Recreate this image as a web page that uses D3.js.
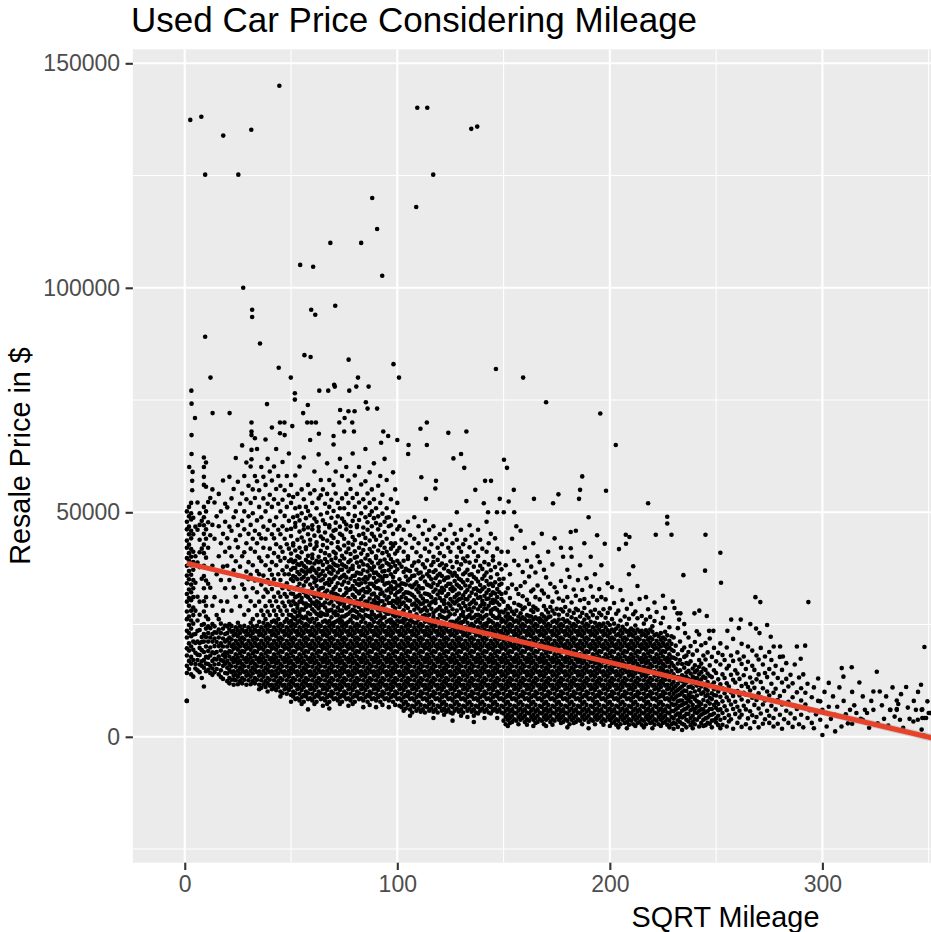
<!DOCTYPE html>
<html>
<head>
<meta charset="utf-8">
<script src="https://cdn.jsdelivr.net/npm/d3@7"></script>
<style>
  html, body { margin: 0; padding: 0; background: #fff; }
  svg { display: block; font-family: "Liberation Sans", Arial, Helvetica, sans-serif; }
</style>
</head>
<body>
<svg id="chart" width="931" height="932"></svg>
<script>
// x is sqrt(mileage); column prices are in $100s
// each column: [sqrtMileage, [prices at that mileage]]
const lowMileageCols = [
  [1, [80,142,158,181,197,221,236,262,279,301,318,342,359,381,398,421,437,462,479,502]],
  [2, [151,169,192,208,231,249,268,292,309,328,351,369,392,409,428,451,468,491,512]],
  [3, [139,163,178,201,224,241,259,281,304,322,339,361,382,401,418,442,459,484,498,521]],
  [4, [134,171,194,212,228,252,271,288,311,331,349,372,389,412,451,488]],
  [5, [152,162,187,209,229,281,343,402,468]],
  [6, [148,171,183,212,236,259,312,388,461,522]],
  [7, [144,161,182,198,209,238,272,301,378,411,439,472,498]],
  [8, [131,158,168,193,211,222,249,352,419,481]],
  [9, [112,154,171,189,212,229,251,279,302,331,358,381,409,428,452,471,489,512,561,579,601,622]],
  [10, [146,163,178,201,222,241,268,292,311,348,399,441,462,502,557,611]],
  [11, [149,162,176,191,212,231,246,262,341,421,478,523]],
  [12, [142,158,181,199,221,242,332,449,532]],
  [13, [138,152,169,188,212,229,251,292,381,472,551]],
  [14, [144,161,174,186,202,219,233,246,311,441,522]],
  [15, [151,172,189,211,232,271,362,491]],
  [16, [139,162,179,202,221,239,262,402,469,541]],
  [17, [133,148,171,192,208,231,252,302,349,431,502]],
  [18, [129,158,169,182,201,219,241,281,379,452,571]],
  [19, [142,163,178,188,212,229,248,331,412,479,519]],
  [20, [124,141,154,169,186,201,216,231,246,301,381,442,511]],
  [21, [119,131,149,162,179,191,209,221,239,251,349,421,468,579]],
  [22, [127,144,157,172,189,202,217,234,247,281,402,459,531]],
  [23, [116,136,146,166,176,196,206,226,236,332,371,489,552]],
  [24, [126,139,156,171,184,199,214,229,244,312,391,438,502,621]],
  [25, [117,134,147,164,177,194,207,224,237,254,359,422,471,568]],
  [26, [124,141,154,169,186,201,216,231,246,291,379,449,519]],
  [27, [119,131,149,162,179,191,209,221,239,339,402,481,542,649]],
  [28, [127,144,157,172,189,202,217,234,247,272,329,411,462,502,581]],
  [29, [116,136,146,166,176,196,206,226,236,312,368,431,529,611]],
  [30, [126,139,156,171,184,199,214,229,244,282,351,389,452,491,559]],
  [31, [117,134,147,164,177,194,207,224,237,254,302,361,419,472,521,602]],
  [32, [124,141,154,169,186,201,216,231,246,262,331,382,441,498,551]],
  [33, [119,131,149,162,179,191,209,221,239,292,348,412,459,532,581]],
  [34, [127,144,157,172,189,202,217,234,247,271,322,369,431,482,569,641]],
  [35, [106,116,136,146,166,176,196,206,226,236,256,301,362,399,451,512,549]],
  [36, [109,126,139,156,171,184,199,214,229,244,281,339,391,442,489,601]],
  [37, [117,134,147,164,177,194,207,224,237,254,271,312,359,421,468,531,579]],
  [38, [111,124,141,154,169,186,201,216,231,246,262,291,328,382,441,502,561,662]],
  [39, [101,119,131,149,162,179,191,209,221,239,251,279,322,349,402,461,519,619]],
  [40, [114,127,144,157,172,189,202,217,234,247,271,302,341,372,419,481,539,591]],
  [41, [106,116,136,146,166,176,196,206,226,236,256,292,329,361,389,451,512,571,689]],
  [42, [109,126,139,156,171,184,199,214,229,244,259,281,312,351,409,442,471,529,602]],
  [43, [104,117,134,147,164,177,194,207,224,237,254,271,302,339,382,429,489,552,641]],
  [44, [111,124,141,154,169,186,201,216,231,246,262,289,321,362,401,461,519,581]],
  [45, [90,101,119,131,149,162,179,191,209,221,239,251,281,312,349,392,422,451,502,559]],
  [46, [97,114,127,144,157,172,189,202,217,234,247,272,299,331,371,412,469,528,612]],
  [47, [106,116,136,146,166,176,196,206,226,236,256,291,318,362,398,441,492,549,672]],
  [48, [96,109,126,139,156,171,184,199,214,229,244,262,281,312,342,379,429,461,512,581]],
  [49, [104,117,134,147,164,177,194,207,224,237,254,272,301,329,362,391,419,481,538,631]]
];

const midMileageCols = [
  [50, [78,93,111,124,141,154,169,186,201,216,231,246,258,271,293,319,332,351,372,395,408,447,463,521,561]],
  [51, [90,101,119,131,149,162,179,191,209,221,239,251,266,282,302,318,347,358,376,389,426,431,489,534]],
  [52, [84,97,114,127,144,157,172,189,202,217,234,247,262,278,296,311,329,356,376,392,415,468,476,509,582]],
  [53, [86,106,116,136,146,166,176,196,206,226,236,254,269,287,294,313,333,351,367,384,402,439,492,541]],
  [54, [81,96,109,126,139,156,171,184,199,214,229,244,259,271,279,301,316,341,362,383,399,421,457,482,512,602]],
  [55, [73,88,104,117,134,147,164,177,194,207,224,237,254,267,284,301,309,328,352,371,387,411,444,498,551]],
  [56, [78,93,111,124,141,154,169,186,201,216,231,246,264,283,297,322,337,356,368,381,435,462,472,529,622]],
  [57, [90,101,119,131,149,162,179,191,209,221,239,251,268,289,297,314,346,363,377,394,418,422,487,512]],
  [58, [61,84,97,114,127,144,157,172,189,202,217,234,247,261,276,293,311,324,352,369,389,403,451,466,503,561]],
  [59, [86,106,116,136,146,166,176,196,206,226,236,256,273,292,305,321,339,368,372,388,428,439,493,542,661]],
  [60, [81,96,109,126,139,156,171,184,199,214,229,244,263,284,299,318,331,357,377,398,406,462,471,521]],
  [61, [73,88,104,117,134,147,164,177,194,207,224,237,254,279,296,312,344,353,371,386,419,448,486,549,591]],
  [62, [78,93,111,124,141,154,169,186,201,216,231,246,262,274,291,302,336,349,365,392,425,433,479,509]],
  [63, [90,101,119,131,149,162,179,191,209,221,239,251,271,286,299,313,327,358,374,389,401,458,467,531,629]],
  [64, [84,97,114,127,144,157,172,189,202,217,234,247,269,277,293,309,331,348,362,391,414,446,495,538,572]],
  [65, [69,86,106,116,136,146,166,176,196,206,226,236,256,274,294,317,332,351,369,383,427,441,482,551]],
  [66, [81,96,109,126,139,156,171,184,199,214,229,244,259,272,288,299,321,341,359,396,409,455,474,519]],
  [67, [73,88,104,117,134,147,164,177,194,207,224,237,254,272,281,308,326,343,374,389,421,437,499,541,609]],
  [68, [63,78,93,111,124,141,154,169,186,201,216,231,246,258,281,297,314,338,351,366,379,404,466,471,512,572]],
  [69, [90,101,119,131,149,162,179,191,209,221,239,251,266,283,301,322,345,363,377,394,431,448,488,528]],
  [70, [84,97,114,127,144,157,172,189,202,217,234,247,254,276,292,319,329,352,371,386,412,443,459,503,561,651]],
  [71, [86,106,116,136,146,166,176,196,206,226,236,256,271,279,306,318,334,357,382,398,408,461,477,542,591]],
  [72, [81,96,109,126,139,156,171,184,199,214,229,244,259,271,288,301,315,342,366,381,422,434,491,521]],
  [73, [73,88,104,117,134,147,164,177,194,207,224,237,254,262,281,296,303,327,353,372,392,417,452,468,509,619]],
  [74, [78,93,111,124,141,154,169,186,201,216,231,246,257,268,281,312,339,357,372,384,403,449,486,531,581]],
  [75, [90,101,119,131,149,162,179,191,209,221,239,251,268,291,298,316,346,361,381,397,426,441,479,509]],
  [76, [84,97,114,127,144,157,172,189,202,217,234,247,253,271,286,303,321,331,355,378,411,462,473,541,601]],
  [77, [69,86,106,116,136,146,166,176,196,206,226,236,256,274,289,309,327,343,368,389,419,432,496,521,571]],
  [78, [81,96,109,126,139,156,171,184,199,214,229,244,261,279,297,304,329,352,374,393,407,456,469,552]],
  [79, [73,88,104,117,134,147,164,177,194,207,224,237,254,269,283,298,316,336,358,374,381,428,445,481,532,631]],
  [80, [78,93,111,124,141,154,169,186,201,216,231,246,267,281,292,311,329,347,359,399,413,438,492,512,582]],
  [81, [90,101,119,131,149,162,179,191,209,221,239,251,264,278,302,324,341,366,388,401,467,471,541]],
  [82, [84,97,114,127,144,157,172,189,202,217,234,247,272,289,301,319,338,351,364,379,421,449,483,522,601]],
  [83, [86,106,116,136,146,166,176,196,206,226,236,256,268,282,295,307,326,342,363,391,408,431,498,562]],
  [84, [66,81,96,109,126,139,156,171,184,199,214,229,244,263,281,296,313,329,351,371,384,416,452,466,529]],
  [85, [88,104,117,134,147,164,177,194,207,224,237,254,271,289,298,301,322,344,356,397,429,443,489,511,569,641]],
  [86, [78,93,111,124,141,154,169,186,201,216,231,246,269,284,301,322,333,352,368,382,405,461,478,542]],
  [87, [71,90,101,119,131,149,162,179,191,209,221,239,251,267,291,308,327,341,359,376,393,418,437,494,521,589]],
  [88, [84,97,114,127,144,157,172,189,202,217,234,247,262,273,279,297,317,341,372,388,411,452,469,502,551]],
  [89, [86,106,116,136,146,166,176,196,206,226,236,256,272,293,304,319,336,354,365,379,424,446,487,529,609]],
  [90, [66,81,96,109,126,139,156,171,184,199,214,229,244,265,287,299,312,331,345,366,398,402,439,476,509]],
  [91, [88,104,117,134,147,164,177,194,207,224,237,254,269,282,296,309,331,348,361,386,415,462,491,559]],
  [92, [78,93,111,124,141,154,169,186,201,216,231,246,259,271,281,302,318,328,357,377,392,427,448,472,521,581]],
  [93, [71,90,101,119,131,149,162,179,191,209,221,239,251,265,289,302,321,347,352,368,381,409,433,497,539]],
  [94, [84,97,114,127,144,157,172,189,202,217,234,247,266,279,294,314,339,358,369,395,421,456,479,619]],
  [95, [86,106,116,136,146,166,176,196,206,226,236,256,274,283,306,326,342,358,387,412,441,488,509,572]],
  [96, [66,81,96,109,126,139,156,171,184,199,214,229,244,259,274,298,311,329,343,371,384,404,469,489]],
  [97, [88,104,117,134,147,164,177,194,207,224,237,254,261,279,298,321,335,362,378,396,419,431,471,529]],
  [98, [78,93,111,124,141,154,169,186,201,216,231,246,255,271,291,303,329,346,356,389,425,452,501,589]],
  [99, [71,90,101,119,131,149,162,179,191,209,221,239,251,268,286,301,316,331,344,367,381,408,431,482,551]],
  [100, [84,97,114,127,144,157,172,189,202,217,234,247,259,272,297,308,322,337,373,392,414,462,521]],
  [101, [69,86,106,116,136,146,166,176,196,206,226,236,256,268,289,303,324,337,351,386,421,469]],
  [102, [66,81,96,109,126,139,156,171,184,199,214,229,244,257,276,296,311,329,342,379,439]],
  [103, [58,73,88,104,117,134,147,164,177,194,207,224,237,254,263,282,299,318,341,367,392,412,461]],
  [104, [63,78,93,111,124,141,154,169,186,201,216,231,246,261,291,309,322,339,357,374,431]],
  [105, [71,90,101,119,131,149,162,179,191,209,221,239,251,271,287,304,321,348,371,396,402,479]],
  [106, [47,61,84,97,114,127,144,157,172,189,202,217,234,247,259,278,303,319,337,352,369,449]],
  [107, [54,69,86,106,116,136,146,166,176,196,206,226,236,256,266,294,316,333,358,381,421]],
  [108, [66,81,96,109,126,139,156,171,184,199,214,229,244,254,283,297,312,339,359,388,441,489]],
  [109, [58,73,88,104,117,134,147,164,177,194,207,224,237,254,273,291,305,328,344,372,411]],
  [110, [63,78,93,111,124,141,154,169,186,201,216,231,246,261,286,301,322,336,364,391,431,469]],
  [111, [56,71,90,101,119,131,149,162,179,191,209,221,239,251,279,296,314,331,352,366,402]],
  [112, [61,84,97,114,127,144,157,172,189,202,217,234,247,269,283,297,308,331,357,384,452]],
  [113, [54,69,86,106,116,136,146,166,176,196,206,226,236,256,271,288,302,319,346,377,419,481]],
  [114, [66,81,96,109,126,139,156,171,184,199,214,229,244,264,281,302,318,339,362,393,439]],
  [115, [58,73,88,104,117,134,147,164,177,194,207,224,237,254,272,293,316,337,357,369,412,461]],
  [116, [63,78,93,111,124,141,154,169,186,201,216,231,246,258,285,299,311,334,351,382,429]],
  [117, [42,56,71,90,101,119,131,149,162,179,191,209,221,239,251,267,276,302,323,342,367,389,401,469]],
  [118, [61,84,97,114,127,144,157,172,189,202,217,234,247,255,281,298,306,328,353,371,442]],
  [119, [54,69,86,106,116,136,146,166,176,196,206,226,236,256,262,284,317,338,359,394,421]],
  [120, [66,81,96,109,126,139,156,171,184,199,214,229,244,271,289,309,324,345,363,382,409,451]],
  [121, [58,73,88,104,117,134,147,164,177,194,207,224,237,254,267,281,303,321,332,358,386,429]],
  [122, [49,63,78,93,111,124,141,154,169,186,201,216,231,246,265,279,296,304,327,349,375,402,461]],
  [123, [56,71,90,101,119,131,149,162,179,191,209,221,239,251,263,287,313,336,354,382,439]],
  [124, [61,84,97,114,127,144,157,172,189,202,217,234,247,268,279,297,318,341,355,369,421]],
  [125, [54,69,86,106,116,136,146,166,176,196,206,226,236,256,273,292,307,329,341,366,391,412,472]],
  [126, [36,52,66,81,96,109,126,139,156,171,184,199,214,229,244,256,284,301,325,333,359,378,431]],
  [127, [58,73,88,104,117,134,147,164,177,194,207,224,237,254,273,297,311,328,347,365,452]],
  [128, [63,78,93,111,124,141,154,169,186,201,216,231,246,259,281,302,316,339,358,389,401,439]],
  [129, [56,71,90,101,119,131,149,162,179,191,209,221,239,251,264,293,306,319,335,352,373,421]],
  [130, [47,61,84,97,114,127,144,157,172,189,202,217,234,247,255,271,286,308,331,349,384,412,461]],
  [131, [54,69,86,106,116,136,146,166,176,196,206,226,236,256,269,278,298,315,344,362,397,429]],
  [132, [66,81,96,109,126,139,156,171,184,199,214,229,244,262,291,307,322,337,366,391,439]],
  [133, [44,58,73,88,104,117,134,147,164,177,194,207,224,237,254,267,283,306,327,349,372,402]],
  [134, [63,78,93,111,124,141,154,169,186,201,216,231,246,271,285,295,313,335,361,388,422,471]],
  [135, [56,71,90,101,119,131,149,162,179,191,209,221,239,251,264,279,299,321,343,362,449]],
  [136, [33,47,61,84,97,114,127,144,157,172,189,202,217,234,247,266,288,304,329,356,379,412]],
  [137, [54,69,86,106,116,136,146,166,176,196,206,226,236,256,271,297,317,331,352,392,431]],
  [138, [52,66,81,96,109,126,139,156,171,184,199,214,229,244,261,272,284,309,326,346,368,402,461]],
  [139, [58,73,88,104,117,134,147,164,177,194,207,224,237,254,269,291,311,324,338,381,439]],
  [140, [63,78,93,111,124,141,154,169,186,201,216,231,246,263,279,296,303,329,352,374,419]],
  [141, [42,56,71,90,101,119,131,149,162,179,191,209,221,239,251,268,286,296,314,333,359,389]],
  [142, [61,84,97,114,127,144,157,172,189,202,217,234,247,253,271,285,307,321,347,366,412,479]],
  [143, [54,69,86,106,116,136,146,166,176,196,206,226,236,256,261,292,308,327,339,384,431]],
  [144, [52,66,81,96,109,126,139,156,171,184,199,214,229,244,258,274,281,299,316,341,355,371,452]],
  [145, [58,73,88,104,117,134,147,164,177,194,207,224,237,254,269,284,298,305,322,336,393,402]],
  [146, [63,78,93,111,124,141,154,169,186,201,216,231,246,265,287,303,319,344,378,442]],
  [147, [42,56,71,90,101,119,131,149,162,179,191,209,221,239,251,264,283,299,311,329,362,419]],
  [148, [61,84,97,114,127,144,157,172,189,202,217,234,247,269,278,294,322,338,351,386]],
  [149, [54,69,86,106,116,136,146,166,176,196,206,226,236,256,262,279,307,318,341,373,412]]
];

const coreCols = [
  [150, [36,52,66,81,96,109,126,139,156,171,184,199,214,229,244,259,277,301,352]],
  [151, [28,44,58,73,88,104,117,134,147,164,177,194,207,224,237,254,268,283,321,382]],
  [152, [24,38,49,63,78,93,111,124,141,154,169,186,201,216,231,246,261,274,291,331,412]],
  [153, [31,42,56,71,90,101,119,131,149,162,179,191,209,221,239,251,266,286,309,362]],
  [154, [33,47,61,84,97,114,127,144,157,172,189,202,217,234,247,262,279,339,441]],
  [155, [39,54,69,86,106,116,136,146,166,176,196,206,226,236,256,273,298,392]],
  [156, [36,52,66,81,96,109,126,139,156,171,184,199,214,229,244,259,281,329,469]],
  [157, [28,44,58,73,88,104,117,134,147,164,177,194,207,224,237,254,268,294,318,382]],
  [158, [38,49,63,78,93,111,124,141,154,169,186,201,216,231,246,261,275,292,336,459]],
  [159, [42,56,71,90,101,119,131,149,162,179,191,209,221,239,251,266,284,313,367]],
  [160, [33,47,61,84,97,114,127,144,157,172,189,202,217,234,247,262,288,344,421]],
  [161, [27,39,54,69,86,106,116,136,146,166,176,196,206,226,236,256,271,305,392]],
  [162, [36,52,66,81,96,109,126,139,156,171,184,199,214,229,244,259,269,296,357]],
  [163, [44,58,73,88,104,117,134,147,164,177,194,207,224,237,254,268,282,324,379]],
  [164, [24,38,49,63,78,93,111,124,141,154,169,186,201,216,231,246,261,278,290,328,431]],
  [165, [31,42,56,71,90,101,119,131,149,162,179,191,209,221,239,251,266,287,311,366]],
  [166, [33,47,61,84,97,114,127,144,157,172,189,202,217,234,247,262,283,337,402]],
  [167, [39,54,69,86,106,116,136,146,166,176,196,206,226,236,256,264,306,389]],
  [168, [36,52,66,81,96,109,126,139,156,171,184,199,214,229,244,259,273,326,452]],
  [169, [28,44,58,73,88,104,117,134,147,164,177,194,207,224,237,254,268,291,319,372]],
  [170, [24,38,49,63,78,93,111,124,141,154,169,186,201,216,231,246,261,283,355]],
  [171, [42,56,71,90,101,119,131,149,162,179,191,209,221,239,251,266,277,312,412]],
  [172, [33,47,61,84,97,114,127,144,157,172,189,202,217,234,247,268,289,341]],
  [173, [27,39,54,69,86,106,116,136,146,166,176,196,206,226,236,256,281,301,384]],
  [174, [36,52,66,81,96,109,126,139,156,171,184,199,214,229,244,259,274,333,442]],
  [175, [44,58,73,88,104,117,134,147,164,177,194,207,224,237,254,285,322]],
  [176, [38,49,63,78,93,111,124,141,154,169,186,201,216,231,246,261,272,308]],
  [177, [31,42,56,71,90,101,119,131,149,162,179,191,209,221,239,251,284,347,421]],
  [178, [33,47,61,84,97,114,127,144,157,172,189,202,217,234,247,262,279,303,401]],
  [179, [39,54,69,86,106,116,136,146,166,176,196,206,226,236,256,289,334]],
  [180, [21,36,52,66,81,96,109,126,139,156,171,184,199,214,229,244,259,272,311,372]],
  [181, [28,44,58,73,88,104,117,134,147,164,177,194,207,224,237,254,281,356]],
  [182, [38,49,63,78,93,111,124,141,154,169,186,201,216,231,246,266,299,401]],
  [183, [31,42,56,71,90,101,119,131,149,162,179,191,209,221,239,251,276,328]],
  [184, [33,47,61,84,97,114,127,144,157,172,189,202,217,234,247,262,285,314,459]],
  [185, [39,54,69,86,106,116,136,146,166,176,196,206,226,236,256,282,349]],
  [186, [36,52,66,81,96,109,126,139,156,171,184,199,214,229,244,268,304,382]],
  [187, [28,44,58,73,88,104,117,134,147,164,177,194,207,224,237,254,276,327]],
  [188, [38,49,63,78,93,111,124,141,154,169,186,201,216,231,246,261,287,307,431]],
  [189, [42,56,71,90,101,119,131,149,162,179,191,209,221,239,251,271,353]],
  [190, [19,33,47,61,84,97,114,127,144,157,172,189,202,217,234,247,265,298]],
  [191, [39,54,69,86,106,116,136,146,166,176,196,206,226,236,256,279,335,401]],
  [192, [36,52,66,81,96,109,126,139,156,171,184,199,214,229,244,271,312]],
  [193, [28,44,58,73,88,104,117,134,147,164,177,194,207,224,237,254,283,362]],
  [194, [38,49,63,78,93,111,124,141,154,169,186,201,216,231,246,265,304,449]],
  [195, [42,56,71,90,101,119,131,149,162,179,191,209,221,239,251,276,329]],
  [196, [33,47,61,84,97,114,127,144,157,172,189,202,217,234,247,271,311,382]],
  [197, [27,39,54,69,86,106,116,136,146,166,176,196,206,226,236,252,284]],
  [198, [36,52,66,81,96,109,126,139,156,171,184,199,214,229,244,265,306]],
  [199, [44,58,73,88,104,117,134,147,164,177,194,207,224,237,254,276,342]],
  [200, [24,38,49,63,78,93,111,124,141,154,169,186,201,216,231,249,286]],
  [201, [31,42,56,71,90,101,119,131,149,162,179,191,209,221,239,262,333]],
  [202, [33,47,61,84,97,114,127,144,157,172,189,202,217,234,252,298]],
  [203, [27,39,54,69,86,106,116,136,146,166,176,196,206,226,241,274]],
  [204, [21,36,52,66,81,96,109,126,139,156,171,184,199,214,229,247,281]],
  [205, [28,44,58,73,88,104,117,134,147,164,177,194,207,224,237,259,327]],
  [206, [38,49,63,78,93,111,124,141,154,169,186,201,216,231,245,304]],
  [207, [31,42,56,71,90,101,119,131,149,162,179,191,209,221,239,268]],
  [208, [19,33,47,61,84,97,114,127,144,157,172,189,202,217,234,251,285]],
  [209, [27,39,54,69,86,106,116,136,146,166,176,196,206,226,236,263,362]],
  [210, [36,52,66,81,96,109,126,139,156,171,184,199,214,229,241,296]],
  [211, [28,44,58,73,88,104,117,134,147,164,177,194,207,224,237,273]],
  [212, [24,38,49,63,78,93,111,124,141,154,169,186,201,216,231,248,279]],
  [213, [31,42,56,71,90,101,119,131,149,162,179,191,209,221,239,264,336]],
  [214, [33,47,61,84,97,114,127,144,157,172,189,202,217,234,307]],
  [215, [27,39,54,69,86,106,116,136,146,166,176,196,206,226,236,269]],
  [216, [21,36,52,66,81,96,109,126,139,156,171,184,199,214,229,252]],
  [217, [28,44,58,73,88,104,117,134,147,164,177,194,207,224,237,261,311]],
  [218, [38,49,63,78,93,111,124,141,154,169,186,201,216,231,284]],
  [219, [31,42,56,71,90,101,119,131,149,162,179,191,209,221,239,267]],
  [220, [19,33,47,61,84,97,114,127,144,157,172,189,202,217,234,246]],
  [221, [27,39,54,69,86,106,116,136,146,166,176,196,206,226,258,299]],
  [222, [36,52,66,81,96,109,126,139,156,171,184,199,214,229,278]],
  [223, [28,44,58,73,88,104,117,134,147,164,177,194,207,224]],
  [224, [24,38,49,63,78,93,111,124,141,154,169,186,201,216,231,253]],
  [225, [31,42,56,71,90,101,119,131,149,162,179,191,209,221,265,314]],
  [226, [33,47,61,84,97,114,127,144,157,172,189,202,217,234,287]],
  [227, [27,39,54,69,86,106,116,136,146,166,176,196,206,226]],
  [228, [21,36,52,66,81,96,109,126,139,156,171,184,199,214,244]],
  [229, [28,44,58,73,88,104,117,134,147,164,177,194,207,224]]
];

const highMileageCols = [
  [230, [18,31,41,57,71,83,96,109,122,139,158,176,191,221]], [231, [29,48,61,72,88,101,113,131,152,174,203]],
  [232, [22,37,52,64,79,92,104,118,133,146,163,184,242]], [233, [33,44,52,69,81,94,108,127,148,171,212]],
  [234, [15,29,43,58,71,81,99,112,124,137,162,193]], [235, [27,46,61,74,91,103,116,133,154,178,199,251]],
  [236, [21,38,51,63,76,86,102,121,133,143,164,181]], [237, [34,51,68,82,93,111,129,147,162,189,221]],
  [238, [26,42,59,78,88,98,112,126,141,168,202]], [239, [19,33,47,62,71,89,109,121,134,152,183]],
  [240, [28,39,54,62,84,101,119,131,144,159,211]], [241, [38,53,67,79,92,114,131,148,192]],
  [242, [23,44,58,69,77,104,123,139,156,171,228]], [243, [31,49,61,73,96,112,128,144,163,204]],
  [244, [24,38,52,61,82,99,118,134,152,181]], [245, [26,41,54,69,91,107,131,149,172,209]],
  [246, [31,43,57,79,94,103,122,141,188]], [247, [29,48,62,74,87,113,136,159,219]],
  [248, [21,36,49,62,84,97,116,133,178]], [249, [37,52,71,93,106,121,148,198]],
  [250, [32,41,64,78,92,109,142,168]], [251, [26,47,59,73,101,128,187]],
  [252, [19,38,61,89,117,161,208]], [253, [27,53,79,108,139,182]],
  [254, [42,68,97,131,171]], [255, [23,59,88,119,152,199]],
  [256, [34,48,81,112,158]], [257, [39,72,99,138,181]],
  [258, [18,62,91,127,169,218]], [259, [51,78,121,148]],
  [260, [31,67,102,141,188]], [261, [43,58,92,129,172]],
  [262, [22,49,83,113,162,207]], [263, [69,98,137,179]],
  [264, [28,61,94,118,151]], [265, [41,79,111,167,201]],
  [266, [19,57,103,132]], [267, [48,87,121,158,192]],
  [268, [33,71,109,149]], [269, [44,82,128,181]],
  [270, [21,63,97,139,172]], [271, [52,88,122,198]],
  [272, [29,72,108,161]], [273, [39,81,142,179]],
  [274, [58,101,133]], [275, [31,47,92,151,189]],
  [276, [69,118,171]], [277, [23,42,98,141]],
  [278, [61,107,158]], [279, [29,82,131]],
  [280, [49,91,178]], [281, [18,72,121,149]],
  [282, [39,102]], [283, [58,129,164]],
  [284, [31,78,112]], [285, [52,138]],
  [286, [22,88,119]], [287, [41,69,161]],
  [288, [62,99]], [289, [28,132]],
  [290, [49,81,108]], [291, [21,139]],
  [292, [72,98]], [293, [42,118]],
  [294, [59]], [295, [31,88]],
  [296, [19,110]], [297, [50]],
  [298, [80,130]], [299, [38,79]],
  [300, [4,60]], [301, [100]],
  [302, [23,53]], [303, [67,120]],
  [304, [40]], [305, [90]],
  [306, [12,49]], [307, [67]],
  [308, [110]], [309, [23]],
  [310, [80]], [311, [50]],
  [312, [30]], [313, [60]],
  [314, [29,100]], [315, [70]],
  [316, [53]], [318, [40]],
  [319, [38,90]], [320, [60]],
  [321, [53]], [322, [20]],
  [323, [80]], [324, [60,101]],
  [326, [30]], [327, [101]],
  [328, [70]], [329, [40]],
  [330, [90]], [331, [25]],
  [332, [60]], [333, [110]],
  [334, [45]], [335, [62,81]],
  [337, [95]], [338, [20]],
  [341, [40]], [343, [80]],
  [344, [60]], [345, [100]],
  [347, [61,42]], [348, [2,42]],
  [350, [53]]
];

// scattered points read one by one: [sqrtMileage, price in $1000s]
const outlierPts = [
  [2.6,137.4],[7.8,138.1],[9.6,125.2],[18.1,133.9],[31.3,135.2],[25.2,125.2],[44.5,145],
  [109.4,140.1],[114.1,140.1],[134.8,135.4],[137.6,135.9],[116.9,125.2],[88.2,120],[108.9,118],
  [90.5,113.1],[68.5,110],[83,110],[54.3,105.1],[60.4,104.7],[92.9,102.7],[27.5,100],
  [31.7,95.1],[31.7,93.5],[59.5,95.1],[61.4,94],[70.8,96],[9.6,89.1],[35.4,87.6],[98.2,83],
  [100.8,80],[44.2,82.2],[56.3,85],[59.2,84.6],[77.1,84],[12.1,80],[49.9,80],[146.4,81.9],
  [159.2,80],[170,74.5],[195.5,72],[202.8,65],
  [3.1,77.1],[3.2,74.2],[4.8,71],[3.2,67.2],[3.2,63],[2.1,60.1],[3.7,59],[3.5,57],[3.5,54.9],
  [0.9,8],[38.7,74.1],[13.1,72.1],[21.1,72.1],[51.8,76.5],[51.8,75.1],[63.3,77.1],[67.5,77.1],
  [70.3,78.4],[70.6,78],[77.4,77.1],[80.7,78],[81.5,80],[86.5,78],[85.2,74.5],[86,73.1],
  [90.5,73.1],[73.1,72.8],[77,72.5],[79.9,72.5],[75.2,71],[78.8,70],[72.7,70],[55.7,72.1],
  [57.9,73.9],[57.6,70],[59.6,70],[61.7,70],[50.6,69.2],[31.4,70],[31.4,68],[31.4,67.2],
  [33,66.5],[31.4,63.9],[31.4,61.8],[44.8,70],[46.9,70],[44.8,67.6],[63.1,67.5],[70,67],
  [75,68],[79.6,68],[93.4,68],[95.7,67],[92.4,65.5],[100,66.1],[105.3,65],[105.1,63],
  [110.9,68.6],[113.9,65],[113.9,70],[124,67.7],[132.5,68],[126.4,62],[130,63],[131.5,59.9],
  [150.2,61.7],[151.6,59.9],[111.3,57.8],[118.2,57],[117.9,55.3],[113.5,53],[141.3,57],
  [144.1,57],[136.7,55],[140.7,52],[132.5,52.5],[128,50],[142.7,50],[146.9,50],[150.1,50],
  [155,50],[148.2,53],[152.4,52.4],[154.8,55],[164.3,53],[173.3,52],[175.8,54],[185.5,53],
  [186,55],[187,58],[198.2,54.8],[190,48.9],[218,52],[227,49],[227,47.5],[229,45],[221.6,45],
  [207.5,45],[209.2,44.5],[207.6,43],[204.3,41.8],[197.6,43],[181.6,45.6],[181.6,42],
  [245,45],[252,41],[244.8,37],[252.3,34.3],[234.6,36],[268.5,31.1],[270.8,30],[293.4,30],
  [211,38],[348,20],
  [229.6,30.1],[230.4,28.7],[231.8,27.5],[233.2,27.5],[232.6,26.1],[239.8,27.5],[242.1,28.1],
  [245.6,26.9],[257.1,26.1],[261.6,26.1],[260.7,24.2],[266.1,25.1],[268.8,24.1],[270.4,23.1],
  [274,24.9],[275.7,22.3],[235.4,23.1],[240.9,23.5],[246.7,23.6],[248.7,23.6],[255.3,23.6],
  [288,20.1],[291.9,20.3],[280.1,20.1],[277.1,20.1],[281.4,17.9],[289.8,17.4],[309.1,15.3],
  [313.8,15.5],[309.9,13.4],[325.6,14.5],[317.4,12.1],[339.4,11.1],[346.4,11.6],[349.4,7.9],
  [331.8,6],[335,6],[335.7,7.3],[336.5,3.8],[340.2,6.5],[342.8,3.4],[344.9,3.8],[346.7,6],
  [348.8,4.2],[350.6,5.3],[346.7,1.6],[347.8,0.2],[23.3,12.7]
];

// linear fit, with its thin grey band
const fitX = [1, 150, 360];
const fitY = [38640, 22110, -1180];
const fitLo = [38040, 21860, -2080];
const fitHi = [39240, 22360, -280];

const xMajorTicks = [0, 100, 200, 300];
const xMinorTicks = [50, 150, 250, 350];
const yMajorTicks = [0, 50000, 100000, 150000];
const yMinorTicks = [-25000, 25000, 75000, 125000];

const svg = d3.select("#chart");
const panel = { left: 132.9, top: 49.3, right: 931, bottom: 862.7 };

const x = d3.scaleLinear().domain([-24.4, 351.1]).range([panel.left, panel.right]);
const y = d3.scaleLinear().domain([-28040, 153120]).range([panel.bottom, panel.top]);

const points = [lowMileageCols, midMileageCols, coreCols, highMileageCols]
  .flatMap(cols => cols.flatMap(([mx, prices]) => prices.map(p => [mx, p * 100])))
  .concat(outlierPts.map(([mx, p]) => [mx, p * 1000]));

svg.append("defs").append("clipPath").attr("id", "panel-clip")
  .append("rect")
  .attr("x", panel.left).attr("y", panel.top)
  .attr("width", panel.right - panel.left).attr("height", panel.bottom - panel.top);

svg.append("rect")
  .attr("x", panel.left).attr("y", panel.top)
  .attr("width", panel.right - panel.left).attr("height", panel.bottom - panel.top)
  .attr("fill", "#ebebeb");

const grid = svg.append("g").attr("clip-path", "url(#panel-clip)");

grid.selectAll("line.ymin").data(yMinorTicks).join("line")
  .attr("class", "ymin")
  .attr("x1", panel.left).attr("x2", panel.right)
  .attr("y1", d => y(d)).attr("y2", d => y(d))
  .attr("stroke", "#fff").attr("stroke-width", 1.05);

grid.selectAll("line.xmin").data(xMinorTicks).join("line")
  .attr("class", "xmin")
  .attr("x1", d => x(d)).attr("x2", d => x(d))
  .attr("y1", panel.top).attr("y2", panel.bottom)
  .attr("stroke", "#fff").attr("stroke-width", 1.05);

grid.selectAll("line.ymaj").data(yMajorTicks).join("line")
  .attr("class", "ymaj")
  .attr("x1", panel.left).attr("x2", panel.right)
  .attr("y1", d => y(d)).attr("y2", d => y(d))
  .attr("stroke", "#fff").attr("stroke-width", 2.1);

grid.selectAll("line.xmaj").data(xMajorTicks).join("line")
  .attr("class", "xmaj")
  .attr("x1", d => x(d)).attr("x2", d => x(d))
  .attr("y1", panel.top).attr("y2", panel.bottom)
  .attr("stroke", "#fff").attr("stroke-width", 2.1);

const plot = svg.append("g").attr("clip-path", "url(#panel-clip)");

plot.selectAll("circle").data(points).join("circle")
  .attr("cx", d => x(d[0]))
  .attr("cy", d => y(d[1]))
  .attr("r", 2.3)
  .attr("fill", "#000");

const fitRows = fitX.map((fx, i) => ({ x: fx, y: fitY[i], lo: fitLo[i], hi: fitHi[i] }));

plot.append("path").datum(fitRows)
  .attr("d", d3.area().x(d => x(d.x)).y0(d => y(d.lo)).y1(d => y(d.hi)))
  .attr("fill", "#999").attr("fill-opacity", 0.4);

plot.append("path").datum(fitRows)
  .attr("d", d3.line().x(d => x(d.x)).y(d => y(d.y)))
  .attr("fill", "none")
  .attr("stroke", "#e8432a")
  .attr("stroke-width", 5);

function styleAxis(g) {
  g.select(".domain").remove();
  g.attr("font-family", null).attr("font-size", null);
  g.selectAll(".tick line").attr("stroke", "#333").attr("stroke-width", 2.1);
  g.selectAll(".tick text")
    .attr("fill", "#4d4d4d")
    .style("font-family", "'Liberation Sans', Arial, Helvetica, sans-serif")
    .style("font-size", "23px");
}

svg.append("g")
  .attr("transform", `translate(${panel.left},0)`)
  .call(d3.axisLeft(y).tickValues(yMajorTicks).tickSize(7.3).tickPadding(5.5).tickFormat(d3.format("d")))
  .call(styleAxis);

svg.append("g")
  .attr("transform", `translate(0,${panel.bottom})`)
  .call(d3.axisBottom(x).tickValues(xMajorTicks).tickSize(7.3).tickPadding(5.8).tickFormat(d3.format("d")))
  .call(styleAxis);

svg.append("text")
  .attr("x", 131).attr("y", 31.8)
  .attr("fill", "#000")
  .style("font-size", "35px")
  .text("Used Car Price Considering Mileage");

svg.append("text")
  .attr("x", 725.5).attr("y", 927)
  .attr("text-anchor", "middle")
  .attr("fill", "#000")
  .style("font-size", "28.8px")
  .text("SQRT Mileage");

svg.append("text")
  .attr("transform", `translate(30,${(panel.top + panel.bottom) / 2}) rotate(-90)`)
  .attr("text-anchor", "middle")
  .attr("fill", "#000")
  .style("font-size", "28.8px")
  .text("Resale Price in $");
</script>
</body>
</html>
